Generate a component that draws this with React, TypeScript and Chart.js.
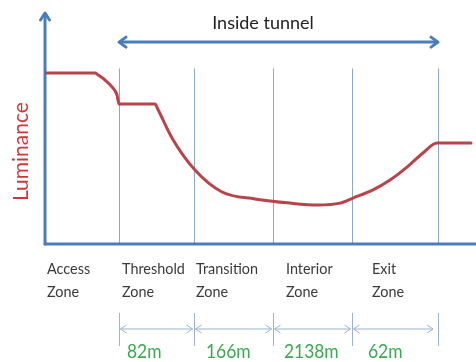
import React, { useEffect, useRef } from "react";
import { Chart, registerables } from "chart.js";

Chart.register(...registerables);

// Schematic distance along the road (x) and relative luminance (y, 0–100)
const curveX = [0, 50, 53, 60, 67, 72, 74, 110, 113, 127, 150, 177, 210, 245, 273, 295, 308, 328, 345, 362, 378, 392, 426];
const curveY = [74.0, 74.0, 73.2, 71.0, 68.0, 64.5, 60.6, 60.6, 58.2, 45.9, 32.0, 22.5, 19.5, 17.7, 16.9, 17.7, 19.9, 23.4, 27.7, 33.3, 39.4, 43.7, 43.7];

const zoneBoundaries = [74, 149, 228, 307, 393];
const zoneNames = [
  ["Access", "Zone"],
  ["Threshold", "Zone"],
  ["Transition", "Zone"],
  ["Interior", "Zone"],
  ["Exit", "Zone"],
];
const zoneLabelX = [2, 77, 151, 241, 327];
const zoneLengths = ["82m", "166m", "2138m", "62m"];
const zoneLengthX = [82, 161, 239, 323];
const titleText = "Inside tunnel";
const titleX = 218;
const yTitle = "Luminance";

const X_MAX = 431;
const Y_MAX = 100;
const BOUNDARY_TOP = 76;
const TUNNEL_ARROW_Y = 87.4;
const Y_TITLE_CENTER = 40;

const AXIS_BLUE = "#4a7ebb";
const FONT = "Lato, 'DejaVu Sans', sans-serif";

const diagramPlugin = {
  id: "diagram",
  beforeDatasetsDraw(chart: any) {
    const { ctx, chartArea: a, scales } = chart;
    const x = scales.x, y = scales.y;
    ctx.save();
    // zone boundary lines
    ctx.strokeStyle = "#8ba7c9";
    ctx.lineWidth = 1;
    zoneBoundaries.forEach((b) => {
      const px = Math.round(x.getPixelForValue(b)) + 0.5;
      ctx.beginPath();
      ctx.moveTo(px, y.getPixelForValue(BOUNDARY_TOP));
      ctx.lineTo(px, a.bottom);
      ctx.stroke();
    });
    // axes
    ctx.strokeStyle = AXIS_BLUE;
    ctx.lineWidth = 3;
    ctx.lineCap = "round";
    ctx.lineJoin = "round";
    ctx.beginPath();
    ctx.moveTo(a.left, a.bottom);
    ctx.lineTo(chart.width, a.bottom);
    ctx.stroke();
    ctx.beginPath();
    ctx.moveTo(a.left, a.bottom);
    ctx.lineTo(a.left, a.top + 1);
    ctx.stroke();
    ctx.beginPath();
    ctx.moveTo(a.left - 4.5, a.top + 7);
    ctx.lineTo(a.left, a.top);
    ctx.lineTo(a.left + 4.5, a.top + 7);
    ctx.stroke();
    ctx.restore();
  },
  afterDraw(chart: any) {
    const { ctx, chartArea: a, scales } = chart;
    const x = scales.x, y = scales.y;
    ctx.save();
    // inside tunnel arrow
    const ay = y.getPixelForValue(TUNNEL_ARROW_Y);
    const x1 = x.getPixelForValue(zoneBoundaries[0]);
    const x2 = x.getPixelForValue(zoneBoundaries[zoneBoundaries.length - 1]);
    ctx.strokeStyle = AXIS_BLUE;
    ctx.lineWidth = 3;
    ctx.lineCap = "round";
    ctx.lineJoin = "round";
    ctx.beginPath();
    ctx.moveTo(x1 + 1, ay);
    ctx.lineTo(x2 - 1, ay);
    ctx.stroke();
    ctx.beginPath();
    ctx.moveTo(x1 + 7, ay - 5);
    ctx.lineTo(x1, ay);
    ctx.lineTo(x1 + 7, ay + 5);
    ctx.stroke();
    ctx.beginPath();
    ctx.moveTo(x2 - 7, ay - 5);
    ctx.lineTo(x2, ay);
    ctx.lineTo(x2 - 7, ay + 5);
    ctx.stroke();

    // title
    ctx.fillStyle = "#222222";
    ctx.font = `18px ${FONT}`;
    ctx.textAlign = "center";
    ctx.textBaseline = "alphabetic";
    ctx.fillText(titleText, x.getPixelForValue(titleX), a.top + 16);

    // y title
    ctx.save();
    ctx.translate(a.left - 24, y.getPixelForValue(Y_TITLE_CENTER));
    ctx.rotate(-Math.PI / 2);
    ctx.fillStyle = "#d0373a";
    ctx.font = `21px ${FONT}`;
    ctx.textAlign = "center";
    ctx.textBaseline = "middle";
    ctx.fillText(yTitle, 0, 0);
    ctx.restore();

    // zone names
    ctx.fillStyle = "#3a3a3a";
    ctx.font = `15px ${FONT}`;
    ctx.textAlign = "left";
    zoneNames.forEach((lines, i) => {
      const px = x.getPixelForValue(zoneLabelX[i]);
      lines.forEach((t, j) => {
        ctx.save();
        ctx.translate(px, a.bottom + 30 + j * 23);
        ctx.scale(0.96, 1.05);
        ctx.fillText(t, 0, 0);
        ctx.restore();
      });
    });

    // dimension ticks & arrows
    ctx.strokeStyle = "#9cb2cf";
    ctx.lineWidth = 1;
    ctx.lineCap = "butt";
    zoneBoundaries.forEach((b) => {
      const px = Math.round(x.getPixelForValue(b)) + 0.5;
      ctx.beginPath();
      ctx.moveTo(px, a.bottom + 69);
      ctx.lineTo(px, a.bottom + 102);
      ctx.stroke();
    });
    const dy = a.bottom + 85;
    for (let i = 0; i < zoneBoundaries.length - 1; i++) {
      const s = x.getPixelForValue(zoneBoundaries[i]) + 1.5;
      const e = x.getPixelForValue(zoneBoundaries[i + 1]) - (i === zoneBoundaries.length - 2 ? 5 : 1.5);
      ctx.beginPath();
      ctx.moveTo(s, dy);
      ctx.lineTo(e, dy);
      ctx.stroke();
      ctx.beginPath();
      ctx.moveTo(s + 6, dy - 4);
      ctx.lineTo(s, dy);
      ctx.lineTo(s + 6, dy + 4);
      ctx.stroke();
      ctx.beginPath();
      ctx.moveTo(e - 6, dy - 4);
      ctx.lineTo(e, dy);
      ctx.lineTo(e - 6, dy + 4);
      ctx.stroke();
    }

    // zone lengths
    ctx.fillStyle = "#3aa84e";
    ctx.font = `20px ${FONT}`;
    ctx.textAlign = "left";
    zoneLengths.forEach((t, i) => {
      ctx.save();
      ctx.translate(x.getPixelForValue(zoneLengthX[i]), a.bottom + 114);
      ctx.scale(0.87, 1);
      ctx.fillText(t, 0, 0);
      ctx.restore();
    });
    ctx.restore();
  },
};

export default function App() {
  const ref = useRef<HTMLCanvasElement | null>(null);
  useEffect(() => {
    if (!ref.current) return;
    const chart = new Chart(ref.current, {
      type: "line",
      data: {
        datasets: [
          {
            data: curveX.map((v, i) => ({ x: v, y: curveY[i] })),
            borderColor: "#b8444a",
            borderWidth: 3,
            pointRadius: 0,
            cubicInterpolationMode: "monotone",
            borderCapStyle: "round",
            borderJoinStyle: "round",
            fill: false,
          },
        ],
      },
      options: {
        responsive: false,
        animation: false,
        events: [],
        layout: { padding: { left: 45, right: 0, top: 13, bottom: 118 } },
        plugins: { legend: { display: false }, tooltip: { enabled: false }, title: { display: false } },
        scales: {
          x: { type: "linear", min: 0, max: X_MAX, display: false },
          y: { type: "linear", min: 0, max: Y_MAX, display: false },
        },
      },
      plugins: [diagramPlugin],
    });
    return () => chart.destroy();
  }, []);
  return (
    <div style={{ position: "fixed", left: 0, top: 0, width: 476, height: 362, background: "#fff" }}>
      <canvas ref={ref} width={476} height={362} style={{ width: 476, height: 362, display: "block" }} />
    </div>
  );
}
